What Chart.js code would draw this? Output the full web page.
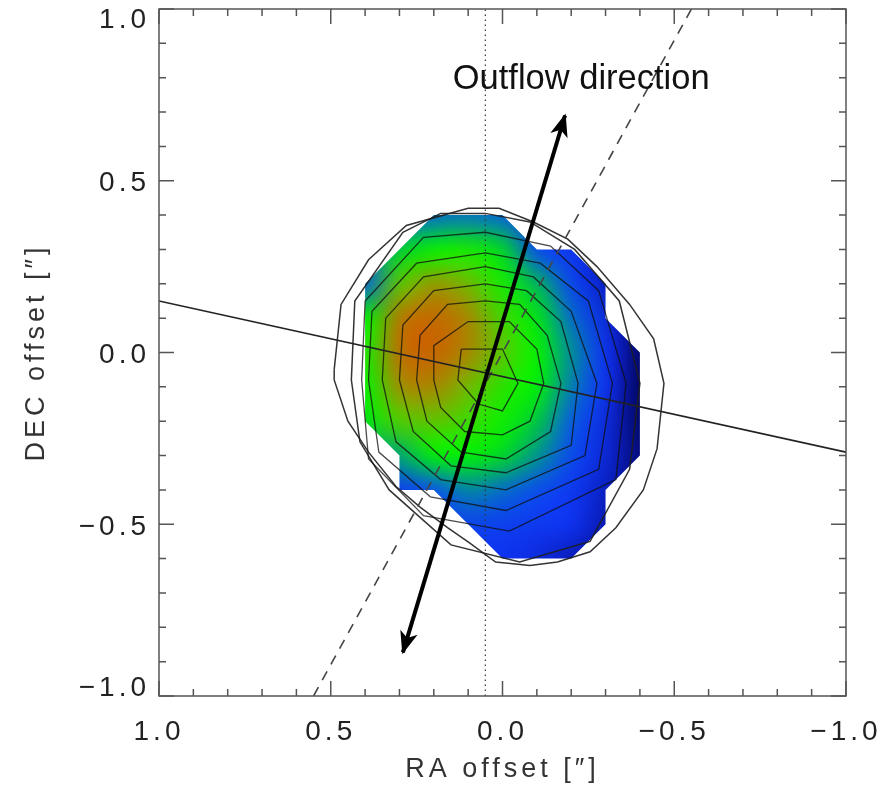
<!DOCTYPE html>
<html>
<head>
<meta charset="utf-8">
<script src="https://cdn.jsdelivr.net/npm/chart.js@4.4.0/dist/chart.umd.min.js"></script>
<style>
  html, body { margin: 0; padding: 0; background: #fff; }
  #wrap { width: 891px; height: 791px; }
</style>
</head>
<body>
<div id="wrap"><canvas id="map"></canvas></div>
<script>
// Axes (RA runs right to left)
const raLimits = [-1.0, 1.0];
const decLimits = [-1.0, 1.0];
const tickCount = 21;      // one tick every 0.1"
const labelStep = 0.5;     // labelled (long) ticks

// Colour image, sampled every 0.1" (rows DEC, columns RA), 0 = dark blue, 1 = orange
const imageRA = [0.4, 0.3, 0.2, 0.1, 0.0, -0.1, -0.2, -0.3, -0.4];
const imageDEC = [0.4, 0.3, 0.2, 0.1, 0.0, -0.1, -0.2, -0.3, -0.4, -0.5, -0.6];
const imageValues = [
    [0.30, 0.30, 0.33, 0.34, 0.32, 0.22, 0.17, 0.12, 0.08],
    [0.36, 0.45, 0.53, 0.55, 0.46, 0.28, 0.21, 0.14, 0.08],
    [0.32, 0.66, 0.78, 0.70, 0.55, 0.42, 0.26, 0.15, 0.07],
    [0.52, 0.85, 0.95, 0.82, 0.62, 0.49, 0.33, 0.18, 0.06],
    [0.56, 0.90, 0.97, 0.82, 0.66, 0.53, 0.37, 0.20, 0.05],
    [0.53, 0.80, 0.82, 0.70, 0.58, 0.51, 0.35, 0.20, 0.04],
    [0.49, 0.64, 0.67, 0.61, 0.54, 0.44, 0.31, 0.18, 0.05],
    [0.38, 0.40, 0.51, 0.51, 0.46, 0.38, 0.27, 0.17, 0.07],
    [0.25, 0.23, 0.30, 0.36, 0.33, 0.28, 0.22, 0.15, 0.08],
    [0.20, 0.20, 0.22, 0.25, 0.24, 0.22, 0.20, 0.13, 0.08],
    [0.18, 0.18, 0.20, 0.21, 0.20, 0.18, 0.14, 0.10, 0.06]
];
// outline of the region where the image has data [RA, DEC]
const imageMask = [
    [0.2, 0.4], [0.0, 0.4], [-0.1, 0.3], [-0.2, 0.3], [-0.3, 0.2], [-0.3, 0.1],
    [-0.4, 0.0], [-0.4, -0.3], [-0.3, -0.4], [-0.3, -0.5], [-0.2, -0.6], [0.0, -0.6],
    [0.2, -0.4], [0.3, -0.4], [0.3, -0.3], [0.4, -0.2], [0.4, 0.2]
];

// colour table stops [value, r, g, b]
const colourStops = [
    [0.00, 0, 0, 60], [0.10, 5, 15, 150], [0.20, 15, 50, 240], [0.30, 10, 85, 235],
    [0.38, 0, 150, 140], [0.46, 0, 215, 40], [0.52, 0, 245, 0], [0.60, 55, 220, 0],
    [0.72, 125, 178, 0], [0.85, 180, 122, 0], [1.00, 205, 95, 0]
];

// Intensity contours [RA, DEC], innermost first
const contour1 = [[0.12, 0.01], [0.0, 0.01], [-0.045, -0.09], [0.0, -0.17], [0.07, -0.15], [0.13, -0.08]];
const contour2 = [[0.20, -0.08], [0.20, 0.02], [0.10, 0.09], [-0.02, 0.09], [-0.10, 0.01], [-0.12, -0.09],
    [-0.08, -0.20], [0.0, -0.24], [0.11, -0.23], [0.18, -0.16]];
const contour3 = [[0.25, -0.08], [0.24, 0.05], [0.16, 0.14], [0.05, 0.15], [-0.05, 0.14], [-0.13, 0.05],
    [-0.17, -0.09], [-0.14, -0.23], [-0.01, -0.31], [0.12, -0.29], [0.22, -0.20]];
const contour4 = [[0.30, -0.08], [0.29, 0.08], [0.20, 0.18], [0.05, 0.20], [-0.07, 0.18], [-0.17, 0.09],
    [-0.22, -0.09], [-0.20, -0.27], [-0.01, -0.35], [0.15, -0.33], [0.26, -0.23]];
const contour5 = [[0.35, -0.08], [0.34, 0.10], [0.23, 0.22], [0.05, 0.25], [-0.09, 0.22], [-0.20, 0.12],
    [-0.275, -0.09], [-0.24, -0.30], [-0.01, -0.40], [0.18, -0.37], [0.31, -0.26]];
const contour6 = [[0.39, -0.08], [0.38, 0.12], [0.25, 0.26], [0.05, 0.29], [-0.11, 0.26], [-0.25, 0.15],
    [-0.32, -0.09], [-0.28, -0.34], [-0.01, -0.46], [0.21, -0.42], [0.36, -0.29]];
const contour7 = [[0.41, -0.08], [0.40, 0.15], [0.23, 0.335], [0.05, 0.35], [-0.14, 0.31], [-0.28, 0.18],
    [-0.36, -0.09], [-0.33, -0.37], [-0.02, -0.52], [0.23, -0.475], [0.39, -0.31]];
const contour8 = [[0.44, -0.08], [0.43, 0.15], [0.29, 0.35], [0.18, 0.405], [0.05, 0.405], [-0.08, 0.38],
    [-0.21, 0.30], [-0.34, 0.15], [-0.40, -0.09], [-0.37, -0.34], [-0.255, -0.55], [-0.05, -0.61],
    [0.15, -0.56], [0.33, -0.40], [0.415, -0.26]];
const contour9 = [[0.49, -0.05], [0.47, 0.14], [0.39, 0.27], [0.28, 0.37], [0.10, 0.42], [0.01, 0.42],
    [-0.09, 0.38], [-0.19, 0.33], [-0.275, 0.25], [-0.37, 0.14], [-0.44, 0.04], [-0.47, -0.09],
    [-0.45, -0.28], [-0.41, -0.40], [-0.33, -0.51], [-0.255, -0.58], [-0.16, -0.61], [-0.08, -0.62],
    [0.02, -0.61], [0.095, -0.555], [0.16, -0.51], [0.24, -0.45], [0.31, -0.39], [0.39, -0.29],
    [0.45, -0.20], [0.49, -0.08]];
const contours = [contour1, contour2, contour3, contour4, contour5, contour6, contour7, contour8, contour9];

// Overlaid lines [RA, DEC]
const majorAxisLine = [[1.0, 0.15], [-1.0, -0.29]];
const minorAxisLine = [[0.55, -1.0], [-0.55, 1.0]];
const centreLine = [[0.05, -1.0], [0.05, 1.0]];
const outflowArrow = [[0.29, -0.873], [-0.182, 0.69]];
const outflowLabel = 'Outflow direction';
const outflowLabelAt = [0.145, 0.766];

const axisFont = '"Liberation Sans", Arial, sans-serif';

function toPoints(list) {
    return list.map(([ra, dec]) => ({ x: ra, y: dec }));
}

function colourFor(v) {
    for (let i = 1; i < colourStops.length; i++) {
        const a = colourStops[i - 1], b = colourStops[i];
        if (v <= b[0]) {
            const t = (v - a[0]) / (b[0] - a[0]);
            return [1, 2, 3].map(k => Math.round(a[k] + (b[k] - a[k]) * t));
        }
    }
    const last = colourStops[colourStops.length - 1];
    return [last[1], last[2], last[3]];
}

function isLabelled(v) {
    return Math.abs(v / labelStep - Math.round(v / labelStep)) < 1e-6;
}

function tickLabel(v) {
    if (!isLabelled(v)) return '';
    const s = Math.abs(v) < 1e-9 ? '0.0' : v.toFixed(1);
    return s.replace('-', '\u2212');
}

// Colour image, clipped to its outline
const skyImage = {
    id: 'skyImage',
    beforeDatasetsDraw(chart) {
        const { ctx, scales: { x, y } } = chart;
        const off = document.createElement('canvas');
        off.width = imageRA.length;
        off.height = imageDEC.length;
        const octx = off.getContext('2d');
        const img = octx.createImageData(off.width, off.height);
        imageValues.forEach((row, j) => row.forEach((v, i) => {
            const c = colourFor(v);
            const k = (j * off.width + i) * 4;
            img.data[k] = c[0];
            img.data[k + 1] = c[1];
            img.data[k + 2] = c[2];
            img.data[k + 3] = 255;
        }));
        octx.putImageData(img, 0, 0);

        const halfRA = (imageRA[1] - imageRA[0]) / 2;
        const halfDEC = (imageDEC[1] - imageDEC[0]) / 2;
        const xl = x.getPixelForValue(imageRA[0] - halfRA);
        const xr = x.getPixelForValue(imageRA[imageRA.length - 1] + halfRA);
        const yt = y.getPixelForValue(imageDEC[0] - halfDEC);
        const yb = y.getPixelForValue(imageDEC[imageDEC.length - 1] + halfDEC);

        ctx.save();
        ctx.beginPath();
        imageMask.forEach(([ra, dec], i) => {
            const px = x.getPixelForValue(ra), py = y.getPixelForValue(dec);
            if (i) ctx.lineTo(px, py); else ctx.moveTo(px, py);
        });
        ctx.closePath();
        ctx.clip();
        ctx.imageSmoothingEnabled = true;
        ctx.imageSmoothingQuality = 'high';
        ctx.drawImage(off, xl, yt, xr - xl, yb - yt);
        ctx.restore();
    }
};

// Arrow heads and the label
const outflowMarks = {
    id: 'outflowMarks',
    afterDatasetsDraw(chart) {
        const { ctx, scales: { x, y } } = chart;
        const pts = chart.getDatasetMeta(0).data;
        const head = (from, to) => {
            const ang = Math.atan2(to.y - from.y, to.x - from.x);
            ctx.save();
            ctx.translate(to.x, to.y);
            ctx.rotate(ang);
            ctx.beginPath();
            ctx.moveTo(2, 0);
            ctx.lineTo(-21, -9);
            ctx.lineTo(-15, 0);
            ctx.lineTo(-21, 9);
            ctx.closePath();
            ctx.fillStyle = '#000';
            ctx.fill();
            ctx.restore();
        };
        head(pts[0], pts[1]);
        head(pts[1], pts[0]);

        ctx.save();
        ctx.letterSpacing = '0px';
        ctx.font = '34.5px ' + axisFont;
        ctx.fillStyle = '#111';
        ctx.textAlign = 'left';
        ctx.textBaseline = 'alphabetic';
        ctx.fillText(outflowLabel, x.getPixelForValue(outflowLabelAt[0]), y.getPixelForValue(outflowLabelAt[1]));
        ctx.restore();
    }
};

// Box, inward ticks on all four sides, DEC tick labels kept inside the box height
const frame = {
    id: 'frame',
    beforeDraw(chart) {
        chart.ctx.letterSpacing = '4px';
    },
    afterDraw(chart) {
        const { ctx, chartArea: a, scales: { x, y } } = chart;
        ctx.save();
        ctx.strokeStyle = '#555';
        ctx.lineWidth = 1.5;
        ctx.strokeRect(a.left, a.top, a.right - a.left, a.bottom - a.top);
        ctx.beginPath();
        x.ticks.forEach(t => {
            const px = x.getPixelForValue(t.value);
            const len = isLabelled(t.value) ? 15 : 7;
            ctx.moveTo(px, a.bottom); ctx.lineTo(px, a.bottom - len);
            ctx.moveTo(px, a.top); ctx.lineTo(px, a.top + len);
        });
        y.ticks.forEach(t => {
            const py = y.getPixelForValue(t.value);
            const len = isLabelled(t.value) ? 15 : 7;
            ctx.moveTo(a.left, py); ctx.lineTo(a.left + len, py);
            ctx.moveTo(a.right, py); ctx.lineTo(a.right - len, py);
        });
        ctx.stroke();

        ctx.letterSpacing = '4px';
        ctx.font = '28px ' + axisFont;
        ctx.fillStyle = '#222';
        ctx.textAlign = 'right';
        ctx.textBaseline = 'middle';
        y.ticks.forEach(t => {
            const text = tickLabel(t.value);
            if (!text) return;
            const py = y.getPixelForValue(t.value) + 3;
            const cy = Math.min(Math.max(py, a.top + 11), a.bottom - 8);
            ctx.fillText(text, a.left - 9, cy);
        });
        ctx.restore();
    }
};

const lineDefaults = { showLine: true, pointRadius: 0, pointHoverRadius: 0, fill: false, tension: 0 };

const datasets = [
    { ...lineDefaults, label: 'outflow', data: toPoints(outflowArrow), borderColor: '#000', borderWidth: 4 },
    { ...lineDefaults, label: 'major axis', data: toPoints(majorAxisLine), borderColor: '#222', borderWidth: 1.6 },
    { ...lineDefaults, label: 'minor axis', data: toPoints(minorAxisLine), borderColor: '#444', borderWidth: 1.6, borderDash: [10, 8] },
    { ...lineDefaults, label: 'centre', data: toPoints(centreLine), borderColor: '#333', borderWidth: 1.2, borderDash: [1.5, 3.5] }
];
contours.forEach((c, i) => {
    datasets.push({
        ...lineDefaults,
        label: 'contour ' + (i + 1),
        data: toPoints(c.concat([c[0]])),
        borderColor: i >= 7 ? 'rgba(30,30,30,0.9)' : 'rgba(15,15,15,0.75)',
        borderWidth: i >= 7 ? 1.5 : 1.3
    });
});

new Chart(document.getElementById('map'), {
    type: 'scatter',
    data: { datasets },
    options: {
        responsive: true,
        maintainAspectRatio: false,
        animation: false,
        layout: { padding: { left: 0, right: 45, top: 9, bottom: 0 } },
        plugins: { legend: { display: false }, tooltip: { enabled: false } },
        scales: {
            x: {
                type: 'linear',
                min: raLimits[0],
                max: raLimits[1],
                reverse: true,
                grid: { display: false, drawTicks: false },
                border: { display: false },
                ticks: {
                    count: tickCount, autoSkip: false, maxRotation: 0, minRotation: 0,
                    padding: 19, color: '#222', font: { family: axisFont, size: 28 },
                    callback: v => tickLabel(v)
                },
                title: {
                    display: true, text: 'RA offset [\u2033]', color: '#333',
                    font: { family: axisFont, size: 27 }, padding: { top: 0, bottom: 5 }
                },
                afterFit(scale) {
                    scale.height = 95;
                    scale.paddingLeft = 0;
                    scale.paddingRight = 0;
                }
            },
            y: {
                type: 'linear',
                min: decLimits[0],
                max: decLimits[1],
                grid: { display: false, drawTicks: false },
                border: { display: false },
                ticks: {
                    display: false, count: tickCount, autoSkip: false,
                    callback: v => tickLabel(v)
                },
                title: {
                    display: true, text: 'DEC offset [\u2033]', color: '#333',
                    font: { family: axisFont, size: 27 }, padding: { top: 20, bottom: 0 }
                },
                afterFit(scale) {
                    scale.width = 159;
                    scale.paddingTop = 0;
                    scale.paddingBottom = 0;
                }
            }
        }
    },
    plugins: [skyImage, outflowMarks, frame]
});
</script>
</body>
</html>
